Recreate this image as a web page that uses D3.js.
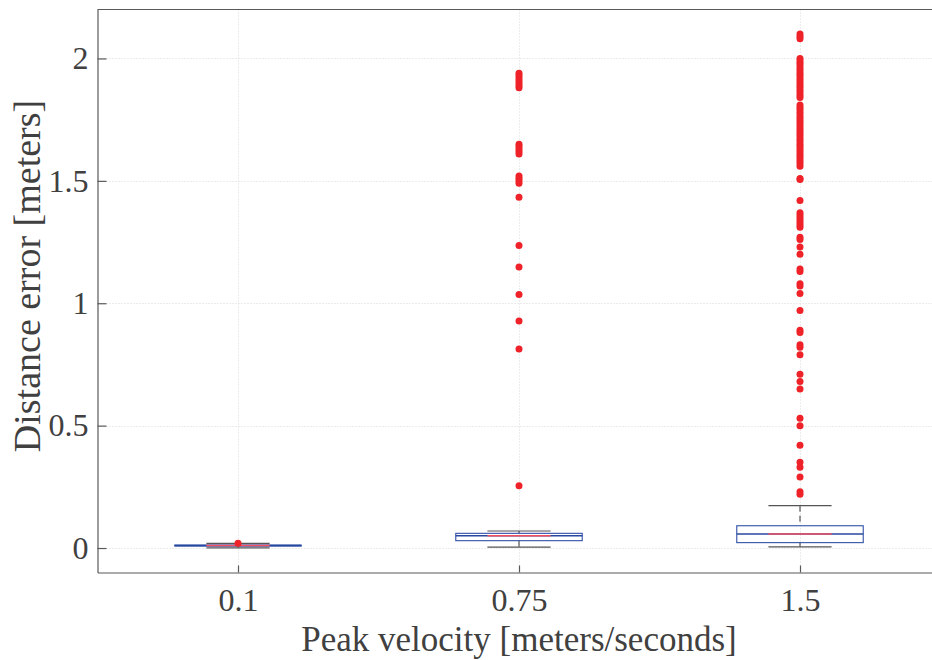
<!DOCTYPE html>
<html>
<head>
<meta charset="utf-8">
<script src="https://cdn.jsdelivr.net/npm/d3@7"></script>
<style>
html,body{margin:0;padding:0;background:#fff;}
svg{display:block;}
</style>
</head>
<body>
<svg id="chart" width="932" height="660"></svg>
<script>
// ---- data ----
const categories = ["0.1", "0.75", "1.5"];
const lowerWhisker = [0.001, 0.004, 0.005];
const q1 = [0.008, 0.030, 0.022];
const median = [0.010, 0.050, 0.057];
const q3 = [0.012, 0.060, 0.091];
const upperWhisker = [0.019, 0.0695, 0.173];
const outliers01 = [0.020];
const outliers075 = [1.94, 1.93, 1.92, 1.91, 1.90, 1.89, 1.88,
  1.65, 1.64, 1.63, 1.62, 1.61,
  1.52, 1.51, 1.50, 1.49,
  1.433, 1.236, 1.148, 1.036, 0.927, 0.813, 0.254];
const outliers15 = [2.10, 2.09, 2.08,
  2.00, 1.99, 1.98, 1.97, 1.96, 1.95, 1.94, 1.93, 1.92, 1.91, 1.90, 1.89, 1.88, 1.87, 1.86, 1.85, 1.84,
  1.81, 1.80, 1.79, 1.78, 1.77, 1.76, 1.75, 1.74, 1.73, 1.72, 1.71, 1.70, 1.69, 1.68, 1.67, 1.66, 1.65,
  1.64, 1.63, 1.62, 1.61, 1.60, 1.59, 1.58, 1.57, 1.56,
  1.51, 1.505, 1.42, 1.37, 1.36, 1.35, 1.34, 1.33, 1.32, 1.31, 1.27, 1.26, 1.23, 1.20,
  1.14, 1.13, 1.08, 1.07, 1.04, 0.97, 0.89, 0.88, 0.83, 0.82, 0.79, 0.71, 0.68, 0.65,
  0.53, 0.50, 0.42, 0.35, 0.33, 0.29, 0.23, 0.22];
const outliers = [outliers01, outliers075, outliers15];
const yTicks = [0, 0.5, 1, 1.5, 2];
const yTickLabels = ["0", "0.5", "1", "1.5", "2"];
const xLabel = "Peak velocity [meters/seconds]";
const yLabel = "Distance error [meters]";

// ---- layout ----
const svg = d3.select("#chart");
const pLeft = 97.5, pTop = 9.5, pBottom = 572.5, pRight = 940.5;
const font = "'Liberation Serif', 'Times New Roman', serif";
const textColor = "#404040";
const axisColor = "#595959";

const x = d3.scalePoint().domain(categories).range([pLeft, pRight]).padding(0.5);
const band = x.step();
const y = d3.scaleLinear().domain([-0.1, 2.2]).range([pBottom, pTop]);

// grid
const grid = svg.append("g");
grid.selectAll("line.gy").data(yTicks).join("line")
  .attr("x1", pLeft).attr("x2", pRight)
  .attr("y1", d => Math.round(y(d)) + 0.5).attr("y2", d => Math.round(y(d)) + 0.5)
  .attr("stroke", "#d8d8d8").attr("stroke-width", 1).attr("stroke-dasharray", "1,2");
grid.selectAll("line.gx").data(categories).join("line")
  .attr("y1", pTop).attr("y2", pBottom)
  .attr("x1", d => Math.round(x(d)) + 0.5).attr("x2", d => Math.round(x(d)) + 0.5)
  .attr("stroke", "#d8d8d8").attr("stroke-width", 1).attr("stroke-dasharray", "1,2");

// frame top
svg.append("line").attr("x1", pLeft).attr("x2", pRight).attr("y1", pTop).attr("y2", pTop)
  .attr("stroke", axisColor).attr("stroke-width", 1.2);

// axes
const yAxis = d3.axisLeft(y).tickValues(yTicks).tickFormat((d, i) => yTickLabels[i])
  .tickSizeInner(-9).tickSizeOuter(0).tickPadding(9);
const gy = svg.append("g").attr("transform", `translate(${pLeft},0)`).call(yAxis);
const xAxis = d3.axisBottom(x).tickSizeInner(-7).tickSizeOuter(0).tickPadding(16);
const gx = svg.append("g").attr("transform", `translate(0,${pBottom})`).call(xAxis);
[gx, gy].forEach(g => {
  g.select(".domain").attr("stroke", axisColor).attr("stroke-width", 1.2);
  g.selectAll(".tick line").attr("stroke", axisColor).attr("stroke-width", 1.2);
  g.selectAll(".tick text").attr("font-family", font).attr("font-size", 32).attr("fill", textColor);
});
gx.selectAll(".tick text").attr("dy", "0.71em");

// boxes
const boxW = band * 0.45;
const capW = band * 0.225;
const boxes = svg.append("g");
categories.forEach((c, i) => {
  const cx = x(c);
  const g = boxes.append("g");
  g.append("line").attr("x1", cx).attr("x2", cx).attr("y1", y(upperWhisker[i])).attr("y2", y(q3[i]))
    .attr("stroke", "#333").attr("stroke-width", 1).attr("stroke-dasharray", "6,4");
  g.append("line").attr("x1", cx).attr("x2", cx).attr("y1", y(q1[i])).attr("y2", y(lowerWhisker[i]))
    .attr("stroke", "#333").attr("stroke-width", 1).attr("stroke-dasharray", "6,4");
  [upperWhisker[i], lowerWhisker[i]].forEach(v => {
    g.append("line").attr("x1", cx - capW / 2).attr("x2", cx + capW / 2).attr("y1", y(v)).attr("y2", y(v))
      .attr("stroke", "#555").attr("stroke-width", 1.2);
  });
  g.append("rect").attr("x", cx - boxW / 2).attr("width", boxW)
    .attr("y", y(q3[i])).attr("height", Math.max(0.5, y(q1[i]) - y(q3[i])))
    .attr("fill", "none").attr("stroke", "#3050a8").attr("stroke-width", 1.1);
  g.append("line").attr("x1", cx - boxW / 2).attr("x2", cx + boxW / 2).attr("y1", y(median[i])).attr("y2", y(median[i]))
    .attr("stroke", "#2848a0").attr("stroke-width", 1.4);
  g.append("line").attr("x1", cx - capW / 2).attr("x2", cx + capW / 2).attr("y1", y(median[i])).attr("y2", y(median[i]))
    .attr("stroke", "#f05060").attr("stroke-width", 1.4);
  g.selectAll("circle").data(outliers[i]).join("circle")
    .attr("cx", cx).attr("cy", d => y(d)).attr("r", 3.5).attr("fill", "#ee2228");
});

// labels
svg.append("text").attr("x", x("0.75")).attr("y", 651).attr("text-anchor", "middle")
  .attr("font-family", font).attr("font-size", 35).attr("fill", textColor).text(xLabel);
svg.append("text").attr("transform", `translate(40,276) rotate(-90)`)
  .attr("text-anchor", "middle")
  .attr("font-family", font).attr("font-size", 38).attr("fill", textColor).text(yLabel);
</script>
</body>
</html>
